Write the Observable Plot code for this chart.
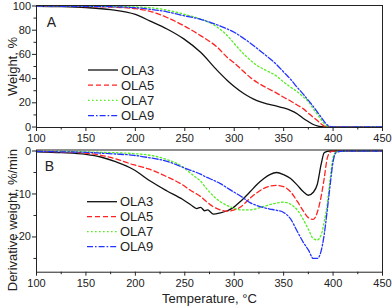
<!DOCTYPE html>
<html><head><meta charset="utf-8">
<script src="https://cdn.jsdelivr.net/npm/d3@7"></script>
<script src="https://cdn.jsdelivr.net/npm/@observablehq/plot@0.6"></script>
<style>
body{margin:0;background:#fff;}
#chart{position:relative;width:392px;height:308px;font-family:"Liberation Sans",Arial,sans-serif;}
#chart svg{position:absolute;left:0;}
</style></head><body><div id="chart"></div>
<script>
const series = ["OLA3", "OLA5", "OLA7", "OLA9"];
const colors = ["#111111", "#ff2222", "#55ee22", "#2233ff"];
const dashes = ["none", "5,3", "1.6,2.4", "6,2,1.6,2"];

// Panel A: weight (%) vs temperature
const tgTemp = [100,125,150,175,200,215,232,249,266,283,293,300,310,316,323,333,343,350,357,364,370,375,380,384,388,392,396,400,410,450];
const tgOLA3 = [99.8,99.5,98.7,97,93,87.5,81,72.8,61.7,46.6,38.5,33.5,27.5,24.6,21.8,19.1,17.3,15.8,13.8,10.8,7,4.5,2.1,0.9,0.3,0.1,0,0,0,0];
const tgOLA5 = [99.9,99.8,99.5,99.1,97.8,95.6,90.5,83.7,75.5,65.8,57.5,53,45.5,41.1,37,32.3,28,24.6,21.5,18,15,11.5,8,5.4,2.5,0.4,0,0,0,0];
const tgOLA7 = [99.9,99.9,99.8,99.6,99.2,98.6,96.6,93.3,89.2,82.5,75.5,69,60,55.5,50.9,46.5,42,37.2,33,29,24.8,21,15,10.5,6,1.8,0.3,0,0,0];
const tgOLA9 = [99.9,99.8,99.7,99.4,98.6,97.3,95.2,92,89,84.3,81,78.3,73,69.5,65,58.5,51.5,45.4,39.5,32.5,27,22,17,12.5,8,3.5,0.8,0,0,0];

// Panel B: derivative weight (%/min) vs temperature
const dtgTemp = [100,125,150,165,180,198,215,232,248,256,262,266,270,273,279,286,293,300,306,316,323,330,336,343,350,357,364,370,375,380,384,388,391,394,397,400,403,410,450];
const dtgOLA3 = [-0.2,-0.4,-0.8,-1.4,-2.5,-4.3,-7,-9.3,-11.3,-12.5,-13.4,-13.1,-13.9,-13.7,-14.7,-14.4,-13.9,-13,-11.8,-9.5,-7.8,-6.4,-5.5,-5.0,-5.5,-6.4,-8.0,-9.5,-10.3,-9.6,-7.8,-3.0,-0.4,-0.1,0,0,0,0,0];
const dtgOLA5 = [-0.1,-0.2,-0.5,-1.0,-1.8,-3.2,-4.3,-6,-7.9,-9.2,-10.0,-10.6,-11.4,-12,-13,-13.7,-14.0,-13.7,-13.1,-11.0,-9.7,-8.7,-8.2,-8.0,-8.3,-9.5,-11.8,-14,-15.5,-15.9,-14.3,-10.5,-6.4,-1.8,-0.3,0,0,0,0];
const dtgOLA7 = [-0.1,-0.1,-0.2,-0.3,-0.4,-0.6,-1.0,-2.0,-3.7,-5.2,-6.3,-7.0,-8.2,-9.0,-10.5,-11.8,-12.7,-13.3,-13.7,-13.7,-13.4,-12.9,-12.5,-12.1,-11.9,-12.4,-13.8,-16,-18.2,-20.4,-20.7,-19.5,-16.5,-12.5,-6.5,-1.5,-0.2,0,0];
const dtgOLA9 = [-0.1,-0.2,-0.3,-0.5,-0.7,-1.0,-1.6,-2.4,-3.8,-4.5,-5.0,-5.4,-5.9,-6.2,-6.8,-7.6,-8.6,-9.6,-10.4,-12.0,-12.7,-13.2,-13.5,-13.8,-14.3,-15.8,-18.8,-21.3,-23,-25.0,-25.0,-23.2,-19.5,-14,-8,-2.5,-0.4,0,0];

const xMajor = [100,150,200,250,300,350,400,450];
const xMinor = [125,175,225,275,325,375,425];
const yMajorA = [0,20,40,60,80,100];
const yMinorA = [10,30,50,70,90];
const yMajorB = [0,-10,-20];
const yMinorB = [-5,-15,-25];

const tgValues = [tgOLA3, tgOLA5, tgOLA7, tgOLA9];
const dtgValues = [dtgOLA3, dtgOLA5, dtgOLA7, dtgOLA9];

const FONT = '"Liberation Sans", Arial, sans-serif';
const INK = "#222";

function seriesLines(temps, valuesList) {
  return series.map((s, i) => {
    const rows = temps.map((t, j) => ({T: t, v: valuesList[i][j]}));
    return Plot.line(rows, {x: "T", y: "v", stroke: colors[i], strokeWidth: 1.3,
      strokeDasharray: dashes[i], curve: "monotone-x"});
  });
}

function axes(yMajor, yMinor) {
  return [
    Plot.axisX({ticks: xMajor, tickSize: 4, tickPadding: 3, label: null, fontSize: 11, stroke: INK, fill: INK}),
    Plot.axisX({ticks: xMinor, tickSize: 2.5, tickFormat: () => "", label: null, stroke: INK}),
    Plot.axisY({ticks: yMajor, tickSize: 4, tickPadding: 1.5, label: null, fontSize: 11, tickFormat: d => String(d), stroke: INK, fill: INK}),
    Plot.axisY({ticks: yMinor, tickSize: 2.5, tickFormat: () => "", label: null, stroke: INK})
  ];
}

const chart = document.getElementById("chart");

const plotA = Plot.plot({
  width: 392, height: 145,
  marginLeft: 36, marginRight: 10, marginTop: 5, marginBottom: 18,
  style: {background: "transparent", fontFamily: FONT, color: INK},
  x: {domain: [100, 450]},
  y: {domain: [-0.4, 100.4]},
  marks: [
    ...seriesLines(tgTemp, tgValues),
    Plot.frame({stroke: INK, strokeWidth: 1}),
    ...axes(yMajorA, yMinorA),
    Plot.text(["Weight, %"], {text: d => d, frameAnchor: "left", dx: -24, rotate: -90, fontSize: 13, fill: INK, textAnchor: "middle", lineAnchor: "middle"}),
    Plot.text(["A"], {text: d => d, frameAnchor: "top-left", dx: 14.8, dy: 17.5, fontSize: 14, fill: INK, textAnchor: "middle", lineAnchor: "middle"})
  ]
});
plotA.style.top = "0px";
chart.appendChild(plotA);

const plotB = Plot.plot({
  width: 392, height: 163,
  marginLeft: 36, marginRight: 10, marginTop: 4.5, marginBottom: 36.3,
  style: {background: "transparent", fontFamily: FONT, color: INK},
  x: {domain: [100, 450]},
  y: {domain: [-28.2, 0.23]},
  marks: [
    ...seriesLines(dtgTemp, dtgValues),
    Plot.frame({stroke: INK, strokeWidth: 1}),
    ...axes(yMajorB, yMinorB),
    Plot.text(["Derivative weight, %/min"], {text: d => d, frameAnchor: "left", dx: -24, dy: 9, rotate: -90, fontSize: 13, fill: INK, textAnchor: "middle", lineAnchor: "middle"}),
    Plot.text(["Temperature, \u00B0C"], {text: d => d, frameAnchor: "bottom", dy: 26.5, fontSize: 13, fill: INK, textAnchor: "middle", lineAnchor: "middle"}),
    Plot.text(["B"], {text: d => d, frameAnchor: "top-left", dx: 13, dy: 16.5, fontSize: 14, fill: INK, textAnchor: "middle", lineAnchor: "middle"})
  ]
});
plotB.style.top = "145px";
chart.appendChild(plotB);

// Legends (one in each panel)
const legendSvg = d3.select(chart).append("svg")
  .attr("width", 392).attr("height", 308).style("top", "0px")
  .attr("font-family", FONT);
function legend(x0, y0, step) {
  series.forEach((s, i) => {
    const y = y0 + i * step;
    legendSvg.append("line").attr("x1", x0).attr("x2", x0 + 30).attr("y1", y).attr("y2", y)
      .attr("stroke", colors[i]).attr("stroke-width", 1.3)
      .attr("stroke-dasharray", dashes[i] === "none" ? null : dashes[i]);
    legendSvg.append("text").attr("x", x0 + 33).attr("y", y).attr("dy", "0.35em")
      .attr("font-size", 13).attr("fill", INK).text(s);
  });
}
legend(88, 70, 15.2);
legend(87, 201.7, 15);
</script></body></html>
